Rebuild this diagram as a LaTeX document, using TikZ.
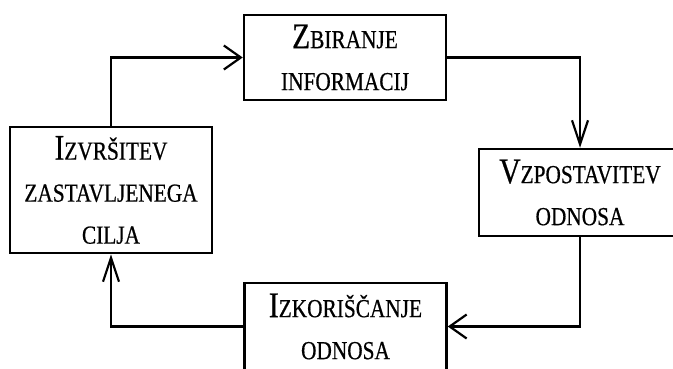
\documentclass[tikz,border=0pt]{standalone}
\usepackage{fontspec}
\setmainfont[FakeStretch=0.82,FakeBold=0.6]{Liberation Serif}
\usetikzlibrary{arrows.meta}
\newcommand\BigL[1]{{\fontsize{36}{42}\selectfont #1}}
\tikzset{
  box/.style={draw, line width=2.5pt, minimum width=202pt, inner sep=0pt,
    align=center, font=\fontsize{26}{42}\selectfont},
  conn/.style={line width=2.2pt},
  harr/.style={conn, -{Straight Barb[length=17pt,width=24pt,line width=2.2pt]}},
  varr/.style={conn, -{Straight Barb[length=24pt,width=16pt,line width=2.2pt]}},
}
\begin{document}
\begin{tikzpicture}[x=1pt,y=-1pt]
\useasboundingbox (0,0) rectangle (673,368);
\clip (0,0) rectangle (673,368);
\node[box, minimum height=85pt] (T) at (345,57.5) {\BigL{Z}BIRANJE\\INFORMACIJ};
\node[box, minimum height=126pt] (L) at (111,190) {\BigL{I}ZVRŠITEV\\ZASTAVLJENEGA\\CILJA};
\node[box, minimum height=87pt] (R) at (580,192.5) {\BigL{V}ZPOSTAVITEV\\ODNOSA};
\node[box, minimum height=87pt] (B) at (345.5,326.5) {\BigL{I}ZKORIŠČANJE\\ODNOSA};
\draw[harr] (L.north) |- (T.west);
\draw[varr] (T.east) -| (R.north);
\draw[harr] (R.south) |- (B.east);
\draw[varr] (B.west) -| (L.south);
\end{tikzpicture}
\end{document}
